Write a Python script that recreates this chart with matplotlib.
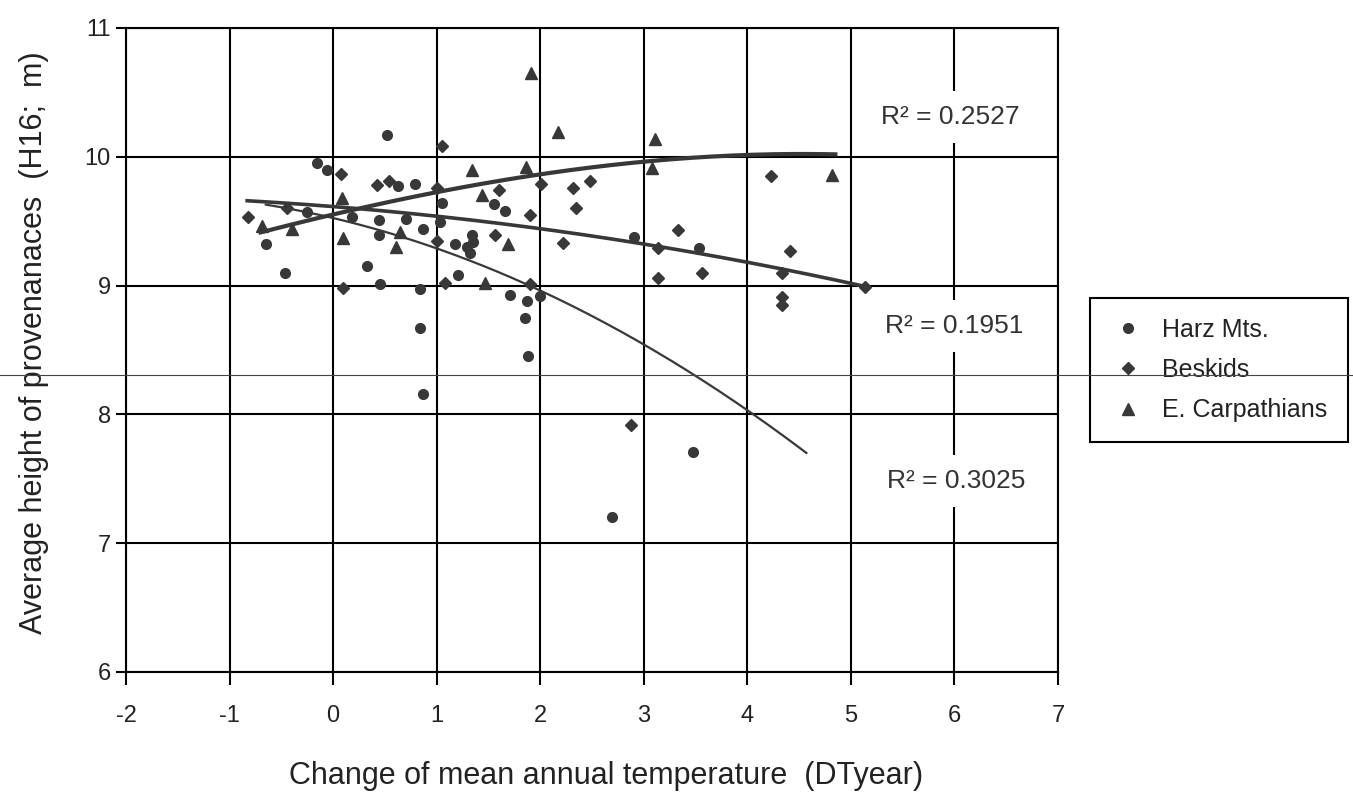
import numpy as np
import matplotlib
matplotlib.use("Agg")
import matplotlib.pyplot as plt
from matplotlib.lines import Line2D

plt.rcParams['font.family'] = ['Liberation Sans', 'DejaVu Sans']
plt.rcParams['axes.unicode_minus'] = False

# Harz Mts. provenances (DTyear, H16 in m)
harz_x = [-0.65, -0.46, -0.25, -0.16, -0.06, 0.18, 0.33, 0.44, 0.44, 0.45, 0.52,
          0.63, 0.70, 0.79, 0.84, 0.84, 0.87, 0.87, 1.03, 1.05, 1.18, 1.21, 1.29,
          1.32, 1.34, 1.35, 1.55, 1.66, 1.71, 1.85, 1.87, 1.88, 2.00, 2.69, 2.91,
          3.48, 3.53]
harz_y = [9.32, 9.10, 9.57, 9.95, 9.90, 9.53, 9.15, 9.51, 9.39, 9.01, 10.17,
          9.77, 9.52, 9.79, 8.97, 8.67, 9.44, 8.16, 9.49, 9.64, 9.32, 9.08, 9.30,
          9.25, 9.39, 9.34, 9.63, 9.58, 8.93, 8.75, 8.88, 8.45, 8.92, 7.20, 9.38,
          7.71, 9.29]

# Beskids provenances
besk_x = [-0.82, -0.45, 0.08, 0.10, 0.42, 0.54, 1.00, 1.00, 1.05, 1.08, 1.56,
          1.60, 1.90, 1.90, 2.01, 2.22, 2.32, 2.35, 2.48, 2.88, 3.14, 3.14, 3.33,
          3.56, 4.23, 4.33, 4.33, 4.33, 4.41, 5.14]
besk_y = [9.53, 9.60, 9.87, 8.98, 9.78, 9.81, 9.76, 9.35, 10.08, 9.02, 9.39,
          9.74, 9.55, 9.01, 9.79, 9.33, 9.76, 9.60, 9.81, 7.92, 9.29, 9.06, 9.43,
          9.10, 9.85, 9.10, 8.91, 8.85, 9.27, 8.99]

# E. Carpathians provenances
carp_x = [-0.69, -0.40, 0.09, 0.10, 0.61, 0.65, 1.34, 1.44, 1.47, 1.69, 1.86,
          1.91, 2.17, 3.08, 3.11, 4.82]
carp_y = [9.46, 9.44, 9.68, 9.37, 9.30, 9.42, 9.90, 9.70, 9.02, 9.32, 9.92,
          10.65, 10.19, 9.91, 10.14, 9.86]

# trend lines
harz_trend_x = [-0.65, 0, 1, 2, 3, 4, 4.57]
harz_trend_y = [9.63, 9.52, 9.29, 8.97, 8.54, 8.02, 7.71]
besk_trend_x = [-0.83, 0, 1, 2, 3, 4, 5.14]
besk_trend_y = [9.67, 9.60, 9.53, 9.45, 9.33, 9.18, 8.99]
carp_trend_x = [-0.7, 0, 1, 2, 3, 4, 4.85]
carp_trend_y = [9.41, 9.56, 9.72, 9.86, 9.97, 10.01, 10.02]

r2_labels = ["R² = 0.2527", "R² = 0.1951", "R² = 0.3025"]
r2_pos = [(5.96, 10.31), (6.0, 8.69), (6.02, 7.48)]

ink = '#383838'

fig = plt.figure(figsize=(13.53, 7.93), dpi=100)
ax = fig.add_axes([126 / 1353, 1 - 672 / 793, 932 / 1353, 644 / 793])


def trend(tx, ty, deg):
    c = np.polyfit(tx, ty, deg)
    xs = np.linspace(tx[0], tx[-1], 200)
    return xs, np.polyval(c, xs)


xs, ys = trend(harz_trend_x, harz_trend_y, 2)
ax.plot(xs, ys, color=ink, lw=1.6, zorder=3)
xs, ys = trend(besk_trend_x, besk_trend_y, 2)
ax.plot(xs, ys, color=ink, lw=2.6, zorder=3)
xs, ys = trend(carp_trend_x, carp_trend_y, 3)
ax.plot(xs, ys, color=ink, lw=3.0, zorder=3)

ax.plot(harz_x, harz_y, 'o', color=ink, ms=7, ls='none', label='Harz Mts.', zorder=4)
ax.plot(besk_x, besk_y, 'D', color=ink, ms=6.5, ls='none', label='Beskids', zorder=4)
ax.plot(carp_x, carp_y, '^', color=ink, ms=8, ls='none', label='E. Carpathians', zorder=4)

for lab, (tx, ty) in zip(r2_labels, r2_pos):
    ax.text(tx, ty, lab, ha='center', va='center', fontsize=19, color='#333333',
            bbox=dict(facecolor='white', edgecolor='none', pad=10), zorder=5)

ax.set_xlim(-2, 7)
ax.set_ylim(6, 11)
ax.set_xticks(range(-2, 8))
ax.set_yticks(range(6, 12))
ax.grid(True, color='black', lw=1.5, zorder=1)
ax.set_axisbelow(True)
for s in ax.spines.values():
    s.set_color('black')
    s.set_linewidth(1.5)
ax.tick_params(axis='x', direction='out', length=9, width=1.5, pad=15,
               labelsize=17, labelcolor='#222222')
ax.tick_params(axis='y', direction='out', length=7, width=1.5, pad=4,
               labelsize=17, labelcolor='#222222')

ax.set_xlabel("Change of mean annual temperature  (DTyear)", fontsize=22, color='#222222')
ax.set_ylabel("Average height of provenanaces  (H16;  m)", fontsize=22, color='#222222')
ax.xaxis.set_label_coords(0.515, -0.161)
ax.xaxis.label.set_va('center')
ax.yaxis.set_label_coords(-0.099, 0.512)
ax.yaxis.label.set_va('center')

leg = ax.legend(loc='upper left', bbox_to_anchor=(1090 / 1353, 1 - 298 / 793),
                bbox_transform=fig.transFigure, fontsize=18, frameon=True,
                fancybox=False, framealpha=1, edgecolor='black', borderaxespad=0,
                labelspacing=0.65, handlelength=1.4, handletextpad=0.7,
                borderpad=0.8, labelcolor='#222222')
leg.get_frame().set_linewidth(1.5)

# thin scan line running across the whole picture
fig.add_artist(Line2D([0, 1], [1 - 375 / 793] * 2, transform=fig.transFigure,
                      color='#444444', lw=0.8, zorder=10))

fig.savefig("out.png", dpi=100)
